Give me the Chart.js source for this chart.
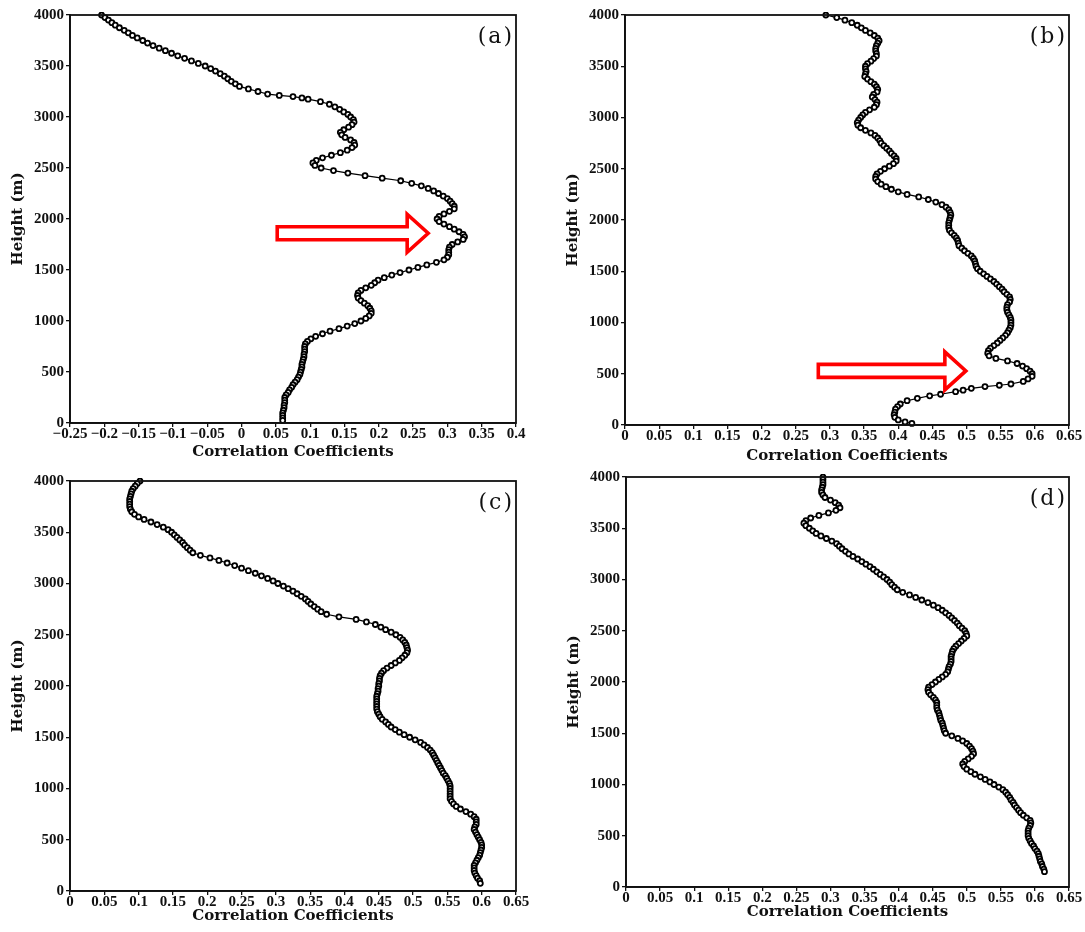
<!DOCTYPE html>
<html><head><meta charset="utf-8">
<script src="https://cdn.jsdelivr.net/npm/chart.js@4.4.1/dist/chart.umd.min.js"></script>
<style>
html,body{margin:0;padding:0;background:#fff;width:1085px;height:932px;overflow:hidden}
canvas{position:absolute;left:0;top:0}
</style></head><body>
<canvas id="ca" width="1085" height="932"></canvas>
<canvas id="cb" width="1085" height="932"></canvas>
<canvas id="cc" width="1085" height="932"></canvas>
<canvas id="cd" width="1085" height="932"></canvas>
<script>
// ---------------- data (height in m, correlation coefficient) ----------------
const heightsA = [
  4000,3975,3950,3925,3900,3875,3850,3825,3800,3775,
  3750,3725,3700,3675,3650,3625,3600,3575,3550,3525,
  3500,3475,3450,3425,3400,3375,3350,3325,3300,3275,
  3250,3225,3212,3200,3187,3175,3150,3125,3100,3075,
  3050,3025,3000,2975,2950,2925,2900,2875,2850,2825,
  2800,2775,2750,2725,2700,2675,2650,2625,2600,2575,
  2550,2525,2500,2475,2450,2425,2400,2375,2350,2325,
  2300,2275,2250,2225,2200,2175,2150,2125,2100,2075,
  2050,2025,2000,1975,1950,1925,1900,1875,1850,1825,
  1800,1775,1750,1725,1700,1675,1650,1625,1600,1575,
  1550,1525,1500,1475,1450,1425,1400,1375,1350,1325,
  1300,1275,1250,1225,1200,1175,1150,1125,1100,1075,
  1050,1025,1000,975,950,925,900,875,850,825,
  800,775,750,725,700,675,650,625,600,575,
  550,525,500,475,450,425,400,375,350,325,
  300,275,250,225,200,175,150,125,100,75,
  50,25];
const corrA = [
  -0.204,-0.199,-0.194,-0.189,-0.184,-0.178,-0.171,-0.165,-0.159,-0.152,
  -0.144,-0.137,-0.129,-0.120,-0.111,-0.102,-0.093,-0.083,-0.073,-0.063,
  -0.053,-0.045,-0.038,-0.031,-0.025,-0.020,-0.015,-0.009,-0.003,0.010,
  0.024,0.038,0.055,0.075,0.088,0.097,0.115,0.128,0.136,0.143,
  0.149,0.155,0.159,0.163,0.164,0.161,0.156,0.149,0.144,0.146,
  0.151,0.159,0.164,0.165,0.161,0.154,0.144,0.131,0.118,0.109,
  0.104,0.107,0.116,0.134,0.155,0.180,0.205,0.232,0.248,0.262,
  0.272,0.280,0.287,0.294,0.300,0.304,0.307,0.310,0.310,0.303,
  0.295,0.288,0.285,0.288,0.295,0.303,0.310,0.317,0.323,0.325,
  0.323,0.315,0.307,0.303,0.302,0.302,0.302,0.300,0.295,0.284,
  0.270,0.257,0.244,0.231,0.219,0.208,0.199,0.194,0.189,0.181,
  0.174,0.170,0.169,0.170,0.174,0.179,0.184,0.187,0.189,0.189,
  0.186,0.181,0.174,0.165,0.154,0.142,0.129,0.118,0.108,0.101,
  0.096,0.093,0.092,0.092,0.092,0.091,0.091,0.090,0.089,0.088,
  0.088,0.087,0.086,0.085,0.083,0.081,0.078,0.075,0.073,0.070,
  0.068,0.065,0.063,0.063,0.063,0.062,0.062,0.061,0.060,0.060,
  0.060,0.060];

const heightsB = [
  4000,3975,3950,3925,3900,3875,3850,3825,3800,3775,
  3750,3725,3700,3675,3650,3625,3600,3575,3550,3525,
  3500,3475,3450,3425,3400,3375,3350,3325,3300,3275,
  3250,3225,3200,3175,3150,3125,3100,3075,3050,3025,
  3000,2975,2950,2925,2900,2875,2850,2825,2800,2775,
  2750,2725,2700,2675,2650,2625,2600,2575,2550,2525,
  2500,2475,2450,2425,2400,2375,2350,2325,2300,2275,
  2250,2225,2200,2175,2150,2125,2100,2075,2050,2025,
  2000,1975,1950,1925,1900,1875,1850,1825,1800,1775,
  1750,1725,1700,1675,1650,1625,1600,1575,1550,1525,
  1500,1475,1450,1425,1400,1375,1350,1325,1300,1275,
  1250,1225,1200,1175,1150,1125,1100,1075,1050,1025,
  1000,975,950,925,900,875,850,825,800,775,
  750,725,700,675,650,625,600,575,550,525,
  500,475,450,425,400,388,375,358,340,325,
  300,285,260,237,205,180,155,125,100,75,
  50,30,15];
const corrB = [
  0.294,0.310,0.322,0.332,0.340,0.346,0.352,0.359,0.365,0.370,
  0.372,0.370,0.368,0.367,0.367,0.368,0.368,0.364,0.360,0.355,
  0.352,0.352,0.353,0.352,0.351,0.355,0.360,0.365,0.368,0.370,
  0.369,0.364,0.362,0.366,0.369,0.368,0.365,0.358,0.352,0.348,
  0.345,0.342,0.340,0.341,0.345,0.352,0.360,0.366,0.370,0.373,
  0.375,0.379,0.383,0.387,0.390,0.394,0.397,0.397,0.393,0.387,
  0.380,0.374,0.369,0.367,0.367,0.370,0.375,0.382,0.390,0.400,
  0.413,0.430,0.444,0.455,0.464,0.470,0.474,0.476,0.477,0.476,
  0.475,0.474,0.474,0.474,0.475,0.478,0.482,0.485,0.487,0.488,
  0.489,0.493,0.497,0.502,0.507,0.510,0.512,0.513,0.514,0.516,
  0.520,0.525,0.530,0.535,0.540,0.544,0.548,0.552,0.555,0.559,
  0.563,0.564,0.563,0.560,0.559,0.559,0.560,0.562,0.564,0.565,
  0.565,0.565,0.564,0.562,0.560,0.557,0.553,0.549,0.545,0.540,
  0.535,0.532,0.531,0.533,0.543,0.560,0.574,0.582,0.588,0.593,
  0.596,0.596,0.590,0.583,0.565,0.548,0.527,0.507,0.495,0.484,
  0.462,0.446,0.428,0.413,0.403,0.399,0.396,0.395,0.394,0.395,
  0.400,0.410,0.420];

const heightsC = [
  4000,3975,3950,3925,3900,3875,3850,3825,3800,3775,
  3750,3725,3700,3675,3650,3625,3600,3575,3550,3525,
  3500,3475,3450,3425,3400,3375,3350,3325,3300,3275,
  3250,3225,3200,3175,3150,3125,3100,3075,3050,3025,
  3000,2975,2950,2925,2900,2875,2850,2825,2800,2775,
  2750,2725,2700,2675,2650,2625,2600,2575,2550,2525,
  2500,2475,2450,2425,2400,2375,2350,2325,2300,2275,
  2250,2225,2200,2175,2150,2125,2100,2075,2050,2025,
  2000,1975,1950,1925,1900,1875,1850,1825,1800,1775,
  1750,1725,1700,1675,1650,1625,1600,1575,1550,1525,
  1500,1475,1450,1425,1400,1375,1350,1325,1300,1275,
  1250,1225,1200,1175,1150,1125,1100,1075,1050,1025,
  1000,975,950,925,900,875,850,825,800,775,
  750,725,700,675,650,625,600,575,550,525,
  500,475,450,425,400,375,350,325,300,275,
  250,225,200,175,150,125,100,75];
const corrC = [
  0.102,0.098,0.095,0.092,0.090,0.089,0.088,0.087,0.087,0.087,
  0.087,0.088,0.090,0.094,0.100,0.108,0.118,0.127,0.136,0.143,
  0.148,0.152,0.156,0.160,0.164,0.167,0.171,0.175,0.179,0.190,
  0.204,0.217,0.229,0.240,0.250,0.260,0.270,0.279,0.288,0.296,
  0.303,0.311,0.318,0.325,0.331,0.337,0.343,0.347,0.351,0.356,
  0.361,0.366,0.374,0.392,0.417,0.432,0.445,0.453,0.460,0.468,
  0.475,0.481,0.485,0.488,0.490,0.491,0.492,0.491,0.488,0.484,
  0.480,0.474,0.468,0.462,0.457,0.454,0.452,0.451,0.451,0.450,
  0.450,0.449,0.449,0.448,0.447,0.447,0.447,0.447,0.447,0.447,
  0.448,0.450,0.452,0.455,0.460,0.464,0.468,0.474,0.480,0.487,
  0.495,0.503,0.511,0.516,0.521,0.525,0.528,0.530,0.532,0.534,
  0.536,0.538,0.540,0.542,0.544,0.547,0.549,0.551,0.553,0.554,
  0.554,0.554,0.554,0.554,0.554,0.556,0.559,0.563,0.569,0.577,
  0.584,0.589,0.592,0.592,0.592,0.590,0.589,0.591,0.593,0.595,
  0.597,0.599,0.600,0.600,0.599,0.598,0.597,0.595,0.593,0.591,
  0.589,0.589,0.589,0.590,0.592,0.594,0.597,0.598];

const heightsD = [
  4000,3975,3950,3925,3900,3875,3850,3825,3800,3775,
  3750,3725,3700,3675,3650,3625,3600,3575,3550,3525,
  3500,3475,3450,3425,3400,3375,3350,3325,3300,3275,
  3250,3225,3200,3175,3150,3125,3100,3075,3050,3025,
  3000,2975,2950,2925,2900,2875,2850,2825,2800,2775,
  2750,2725,2700,2675,2650,2625,2600,2575,2550,2525,
  2500,2475,2450,2425,2400,2375,2350,2325,2300,2275,
  2250,2225,2200,2175,2150,2125,2100,2075,2050,2025,
  2000,1975,1950,1925,1900,1875,1850,1825,1800,1775,
  1750,1725,1700,1675,1650,1625,1600,1575,1550,1525,
  1500,1475,1450,1425,1400,1375,1350,1325,1300,1275,
  1250,1225,1200,1175,1150,1125,1100,1075,1050,1025,
  1000,975,950,925,900,875,850,825,800,775,
  750,725,700,675,650,625,600,575,550,525,
  500,475,450,425,400,375,350,325,300,275,
  250,225,200,175,150];
const corrD = [
  0.289,0.289,0.289,0.289,0.288,0.287,0.287,0.289,0.292,0.300,
  0.307,0.312,0.314,0.308,0.297,0.283,0.271,0.264,0.261,0.264,
  0.269,0.274,0.279,0.286,0.294,0.302,0.309,0.313,0.317,0.322,
  0.327,0.333,0.340,0.346,0.352,0.358,0.363,0.368,0.373,0.378,
  0.383,0.387,0.390,0.394,0.398,0.406,0.416,0.425,0.434,0.443,
  0.451,0.458,0.464,0.469,0.474,0.478,0.482,0.486,0.489,0.493,
  0.497,0.499,0.500,0.496,0.492,0.488,0.484,0.481,0.479,0.478,
  0.477,0.477,0.477,0.476,0.474,0.473,0.472,0.469,0.464,0.459,
  0.454,0.449,0.444,0.443,0.444,0.447,0.451,0.454,0.456,0.456,
  0.456,0.457,0.459,0.460,0.461,0.462,0.464,0.465,0.466,0.467,
  0.469,0.478,0.487,0.494,0.500,0.504,0.507,0.509,0.510,0.507,
  0.502,0.497,0.494,0.496,0.500,0.506,0.512,0.520,0.527,0.534,
  0.540,0.547,0.553,0.557,0.560,0.563,0.565,0.568,0.570,0.573,
  0.576,0.579,0.583,0.588,0.593,0.594,0.593,0.591,0.590,0.590,
  0.590,0.591,0.593,0.595,0.598,0.600,0.603,0.605,0.606,0.607,
  0.608,0.610,0.611,0.613,0.614];

const xTicksA = [-0.25,-0.2,-0.15,-0.1,-0.05,0,0.05,0.1,0.15,0.2,0.25,0.3,0.35,0.4];
const xTicksBCD = [0,0.05,0.1,0.15,0.2,0.25,0.3,0.35,0.4,0.45,0.5,0.55,0.6,0.65];
const yTicks = [0,500,1000,1500,2000,2500,3000,3500,4000];
const panelLabels = ['(a)','(b)','(c)','(d)'];
const xTitle = 'Correlation Coefficients';
const yTitle = 'Height (m)';
// annotation arrows (data units)
const arrowA = {from:0.052, to:0.272, at:1860};
const arrowB = {from:0.283, to:0.499, at:528};

// ---------------- drawing ----------------
const W = 1085, H = 932;
const TICK_FONT = {family:'"Liberation Serif", serif', size:15, weight:'bold', lineHeight:1};
const TITLE_FONT = {family:'"DejaVu Serif", serif', size:15, weight:'bold', lineHeight:1.2};

function fmt(v){
  const s = String(Math.round(v*100)/100);
  return s.replace('-', '\u2212');
}

const decor = {
  id:'decor',
  afterDatasetsDraw(chart, args, o){
    const {ctx, scales:{x,y}} = chart;
    if (o.arrow){
      const x0 = x.getPixelForValue(o.arrow.from), x1 = x.getPixelForValue(o.arrow.to);
      const yc = y.getPixelForValue(o.arrow.at);
      const hl = 21, sh = 6.5, hh = 19;
      ctx.save();
      ctx.beginPath();
      ctx.moveTo(x0, yc-sh); ctx.lineTo(x1-hl, yc-sh); ctx.lineTo(x1-hl, yc-hh);
      ctx.lineTo(x1, yc); ctx.lineTo(x1-hl, yc+hh); ctx.lineTo(x1-hl, yc+sh);
      ctx.lineTo(x0, yc+sh); ctx.closePath();
      ctx.fillStyle = '#fff'; ctx.fill();
      ctx.lineWidth = 3.6; ctx.strokeStyle = '#f00'; ctx.lineJoin = 'miter'; ctx.stroke();
      ctx.restore();
    }
  },
  afterDraw(chart, args, o){
    const {ctx, chartArea:a} = chart;
    ctx.save();
    ctx.strokeStyle = '#111'; ctx.lineWidth = 1.8;
    ctx.strokeRect(a.left, a.top, a.right-a.left, a.bottom-a.top);
    ctx.fillStyle = '#111';
    ctx.font = '22px "DejaVu Serif", serif';
    if ('letterSpacing' in ctx) ctx.letterSpacing = '2px';
    ctx.textAlign = 'right'; ctx.textBaseline = 'middle';
    ctx.fillText(o.label, a.right - 2, a.top + 22);
    ctx.restore();
  }
};

function makePanel(id, heights, corr, rect, xTicks, label, arrow){
  if (heights.length !== corr.length) console.error('length mismatch', id, heights.length, corr.length);
  const pts = heights.map((h,i)=>({x:corr[i], y:h}));
  const yW = 70;
  new Chart(document.getElementById(id), {
    type:'scatter',
    data:{datasets:[{
      data:pts, showLine:true, borderColor:'#000', borderWidth:1.2,
      pointRadius:2.5, pointBorderWidth:1.8, pointBackgroundColor:'#fff', pointBorderColor:'#000',
      clip:3
    }]},
    plugins:[decor],
    options:{
      responsive:false, animation:false, events:[],
      layout:{padding:{left:rect.L - yW, top:rect.T, right:W - rect.R, bottom:H - rect.B - rect.xh}},
      plugins:{legend:{display:false}, tooltip:{enabled:false}, decor:{label, arrow}},
      scales:{
        x:{type:'linear', min:xTicks[0], max:xTicks[xTicks.length-1],
          afterBuildTicks:(s)=>{ s.ticks = xTicks.map(v=>({value:v})); },
          afterFit:(s)=>{ s.height = rect.xh; },
          ticks:{autoSkip:false, maxRotation:0, minRotation:0, padding:0, color:'#111', font:TICK_FONT, callback:(v)=>fmt(v)},
          grid:{drawOnChartArea:false, drawTicks:true, tickLength:4, color:'#111', lineWidth:1.3},
          border:{display:true, color:'#111', width:1.8},
          title:{display:true, text:xTitle, color:'#111', font:TITLE_FONT, padding:{top:0, bottom:5}}
        },
        y:{type:'linear', min:0, max:4000,
          afterBuildTicks:(s)=>{ s.ticks = yTicks.map(v=>({value:v})); },
          afterFit:(s)=>{ s.width = yW; },
          ticks:{autoSkip:false, padding:2, color:'#111', font:TICK_FONT, callback:(v)=>String(v)},
          grid:{drawOnChartArea:false, drawTicks:true, tickLength:4, color:'#111', lineWidth:1.3},
          border:{display:true, color:'#111', width:1.8},
          title:{display:true, text:yTitle, color:'#111', font:TITLE_FONT, padding:{top:9, bottom:0}}
        }
      }
    }
  });
}

makePanel('ca', heightsA, corrA, {L:70, T:15, R:516, B:423, xh:43}, xTicksA, panelLabels[0], arrowA);
makePanel('cb', heightsB, corrB, {L:625, T:15, R:1069, B:425, xh:45}, xTicksBCD, panelLabels[1], arrowB);
makePanel('cc', heightsC, corrC, {L:70, T:481, R:516, B:891, xh:39}, xTicksBCD, panelLabels[2], null);
makePanel('cd', heightsD, corrD, {L:626, T:477, R:1069, B:887, xh:39}, xTicksBCD, panelLabels[3], null);
</script>
</body></html>
